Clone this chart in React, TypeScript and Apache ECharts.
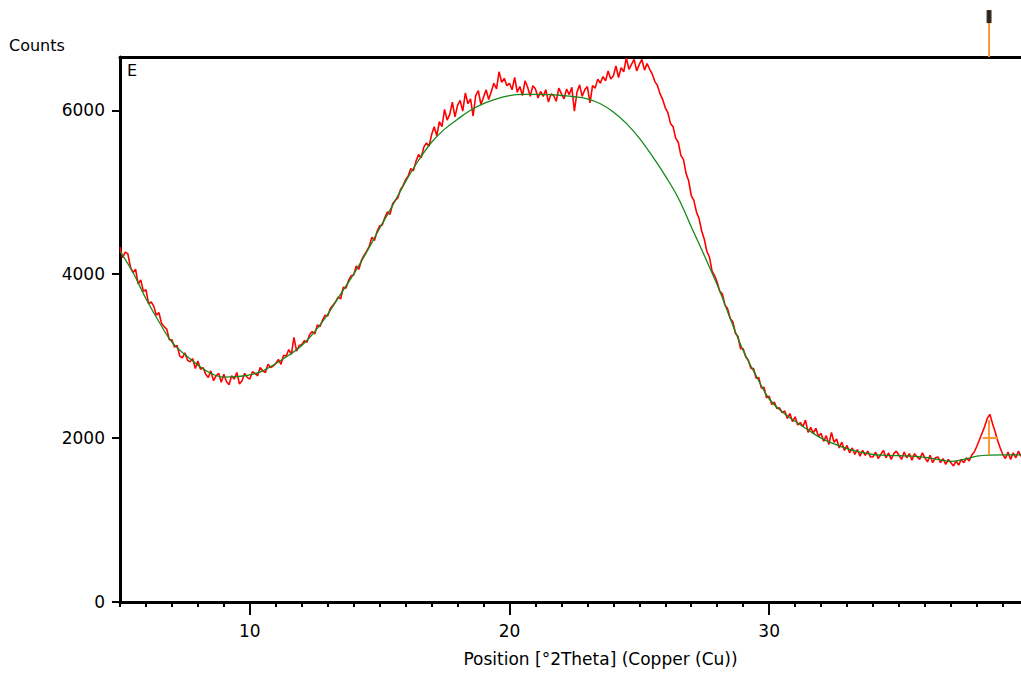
import React, { useEffect, useRef } from "react";
import * as echarts from "echarts";

// ---- data ----
const THETA_MIN = 5;
const THETA_MAX = 39.7;
const COUNTS_MAX = 6650;

const RED_START = 5.0;
const RED_STEP = 0.1;
const redCounts = [
  4330, 4200, 4270, 4250, 4090, 4020, 4060, 3880, 3930, 3790,
  3810, 3640, 3660, 3610, 3500, 3530, 3400, 3360, 3330, 3200,
  3200, 3110, 3130, 3000, 2980, 3040, 2950, 2930, 2970, 2850,
  2940, 2840, 2860, 2780, 2740, 2820, 2700, 2760, 2790, 2680,
  2780, 2690, 2650, 2760, 2720, 2800, 2660, 2700, 2790, 2740,
  2720, 2810, 2790, 2760, 2860, 2820, 2800, 2900, 2860, 2880,
  2910, 2960, 2900, 3010, 3000, 3080, 3020, 3230, 3060, 3130,
  3140, 3190, 3170, 3260, 3300, 3270, 3380, 3360, 3440, 3500,
  3490, 3580, 3620, 3660, 3720, 3700, 3840, 3830, 3920, 3980,
  3990, 4100, 4060, 4170, 4230, 4280, 4340, 4450, 4410, 4520,
  4590, 4600, 4690, 4760, 4730, 4860, 4900, 4930, 5030, 5080,
  5150, 5200, 5290, 5260, 5380, 5460, 5420, 5550, 5600, 5560,
  5700, 5800, 5690, 5860, 5800, 6010, 5880, 5950, 6100, 5920,
  6060, 6120, 5990, 6210, 6080, 6140, 5930, 6180, 6240, 6070,
  6160, 6250, 6130, 6230, 6330, 6260, 6470, 6340, 6390, 6300,
  6330, 6250, 6400, 6220, 6290, 6180, 6360, 6280, 6170, 6300,
  6260, 6150, 6230, 6170, 6250, 6100, 6200, 6180, 6110, 6270,
  6200, 6140, 6260, 6190, 6280, 5990, 6220, 6310, 6170, 6250,
  6290, 6090, 6300, 6270, 6380, 6330, 6410, 6360, 6480, 6380,
  6420, 6540, 6400, 6520, 6470, 6640, 6500, 6560, 6620, 6480,
  6560, 6620, 6490, 6570, 6500, 6440, 6350, 6300, 6200, 6130,
  6030, 5970, 5840, 5800, 5660, 5610, 5450, 5400, 5230, 5140,
  4960, 4900, 4760, 4680, 4530, 4430, 4280, 4210, 4040, 3980,
  3900, 3790, 3760, 3620, 3580, 3460, 3420, 3280, 3240, 3090,
  3090, 2990, 2950, 2850, 2850, 2730, 2740, 2610, 2620, 2490,
  2510, 2410, 2440, 2360, 2370, 2310, 2330, 2240, 2300, 2200,
  2260, 2160, 2190, 2140, 2220, 2070, 2130, 2060, 2120, 2020,
  2060, 1960, 2030, 1920, 2070, 1950, 1990, 1880, 1950, 1850,
  1910, 1820, 1880, 1800, 1860, 1780, 1850, 1790, 1840, 1770,
  1770, 1830, 1750, 1800, 1850, 1760, 1820, 1740, 1810, 1840,
  1790, 1740, 1830, 1760, 1810, 1730, 1810, 1770, 1740, 1820,
  1760, 1710, 1790, 1700, 1760, 1770, 1700, 1750, 1680, 1740,
  1700, 1660, 1720, 1670, 1740, 1700, 1760, 1720, 1790, 1830,
  1900, 1980, 2060, 2140, 2240, 2290, 2180, 2080, 1970, 1880,
  1800, 1750, 1830, 1740, 1820, 1760, 1840, 1780, 1800,
];

const GREEN_START = 5.0;
const GREEN_STEP = 0.5;
const greenCounts = [
  4280, 4020, 3700, 3420, 3170, 3020, 2890, 2790, 2745, 2750,
  2770, 2820, 2910, 3010, 3130, 3300, 3510, 3760, 4000, 4270,
  4560, 4840, 5130, 5390, 5610, 5770, 5890, 6000, 6080, 6140,
  6180, 6195, 6195, 6190, 6180, 6165, 6140, 6080, 5980, 5840,
  5660, 5440, 5200, 4930, 4580, 4230, 3870, 3460, 3070, 2760,
  2480, 2320, 2205, 2100, 2000, 1930, 1870, 1830, 1800, 1790,
  1785, 1780, 1765, 1740, 1715, 1740, 1780, 1793, 1795, 1795,
  1795,
];

const peakTheta = 38.47;
const peakBase = 1793;
const peakTop = 2220;
const peakHalf = 2009;
const fwhmLeft = 38.23;
const fwhmRight = 38.81;

const xMajorTicks = [10, 20, 30];
const xMinorTicks = [5, 6, 7, 8, 9, 10, 11, 12, 13, 14, 15, 16, 17, 18, 19, 20, 21, 22, 23, 24, 25, 26, 27, 28, 29, 30, 31, 32, 33, 34, 35, 36, 37, 38, 39];
const yTicks = [0, 2000, 4000, 6000];

const xTitle = "Position [°2Theta] (Copper (Cu))";
const yTitle = "Counts";
const panelLabel = "E";

const FONT = "DejaVu Sans";

export default function App() {
  const ref = useRef<HTMLDivElement>(null);

  useEffect(() => {
    if (!ref.current) return;
    const chart = echarts.init(ref.current, undefined, { renderer: "svg" });

    const redData = redCounts.map((v, i) => [RED_START + i * RED_STEP, v]);
    const greenData = greenCounts.map((v, i) => [GREEN_START + i * GREEN_STEP, v]);

    const textStyle = { color: "#000", fontSize: 17, fontFamily: FONT };

    chart.setOption({
      animation: false,
      backgroundColor: "#fff",
      grid: [
        { left: 120, right: 0, top: 57, bottom: 72 },
        { left: 120, right: 0, top: 10, height: 47 },
      ],
      xAxis: [
        {
          type: "value",
          gridIndex: 0,
          min: THETA_MIN,
          max: THETA_MAX,
          position: "bottom",
          axisLine: { show: true, onZero: false, lineStyle: { color: "#000", width: 3 } },
          axisTick: { show: true, customValues: xMajorTicks, length: 13, lineStyle: { color: "#000", width: 2 } },
          axisLabel: { show: true, customValues: xMajorTicks, margin: 20, ...textStyle, formatter: (v: number) => String(v) },
          splitLine: { show: false },
          name: xTitle,
          nameLocation: "middle",
          nameGap: 48,
          nameTextStyle: { ...textStyle, padding: [0, 0, 0, 60] },
        },
        {
          type: "value",
          gridIndex: 0,
          min: THETA_MIN,
          max: THETA_MAX,
          position: "bottom",
          axisLine: { show: false },
          axisTick: { show: true, customValues: xMinorTicks, length: 5, lineStyle: { color: "#000", width: 2 } },
          axisLabel: { show: false },
          splitLine: { show: false },
        },
        {
          type: "value",
          gridIndex: 0,
          min: THETA_MIN,
          max: THETA_MAX,
          position: "top",
          axisLine: { show: true, onZero: false, lineStyle: { color: "#000", width: 3 } },
          axisTick: { show: false },
          axisLabel: { show: false },
          splitLine: { show: false },
        },
        { type: "value", gridIndex: 1, min: THETA_MIN, max: THETA_MAX, show: false },
      ],
      yAxis: [
        {
          type: "value",
          gridIndex: 0,
          min: 0,
          max: COUNTS_MAX,
          axisLine: { show: true, onZero: false, lineStyle: { color: "#000", width: 3 } },
          axisTick: { show: true, customValues: yTicks, length: 8, lineStyle: { color: "#000", width: 2 } },
          axisLabel: { show: true, customValues: yTicks, margin: 15, ...textStyle, formatter: (v: number) => String(v) },
          splitLine: { show: false },
        },
        { type: "value", gridIndex: 1, min: 0, max: 1, show: false },
      ],
      graphic: [
        { type: "text", left: 9, top: 37, style: { text: yTitle, fill: "#000", font: `16px "${FONT}"` } },
        { type: "text", left: 127, top: 62, style: { text: panelLabel, fill: "#000", font: `16px "${FONT}"` } },
      ],
      series: [
        {
          type: "line",
          xAxisIndex: 0,
          yAxisIndex: 0,
          data: redData,
          showSymbol: false,
          lineStyle: { color: "#ff0000", width: 1.6 },
          z: 2,
        },
        {
          type: "line",
          xAxisIndex: 0,
          yAxisIndex: 0,
          data: greenData,
          smooth: 0.4,
          showSymbol: false,
          lineStyle: { color: "#14881a", width: 1.3 },
          z: 3,
          markLine: {
            silent: true,
            symbol: ["none", "none"],
            label: { show: false },
            lineStyle: { color: "#ff9933", width: 2, type: "solid" },
            data: [
              [{ coord: [peakTheta, peakBase] }, { coord: [peakTheta, peakTop] }],
              [{ coord: [fwhmLeft, peakHalf] }, { coord: [fwhmRight, peakHalf] }],
            ],
          },
        },
        {
          type: "line",
          xAxisIndex: 3,
          yAxisIndex: 1,
          data: [[peakTheta, 0], [peakTheta, 1]],
          showSymbol: false,
          lineStyle: { color: "#ff9933", width: 2 },
          z: 2,
        },
        {
          type: "scatter",
          xAxisIndex: 3,
          yAxisIndex: 1,
          data: [[peakTheta, 0.86]],
          symbol: "rect",
          symbolSize: [5, 13],
          itemStyle: { color: "#000" },
          z: 6,
        },
      ],
    });

    return () => chart.dispose();
  }, []);

  return (
    <div
      ref={ref}
      style={{ position: "fixed", left: 0, top: 0, width: 1021, height: 674, background: "#fff" }}
    />
  );
}
